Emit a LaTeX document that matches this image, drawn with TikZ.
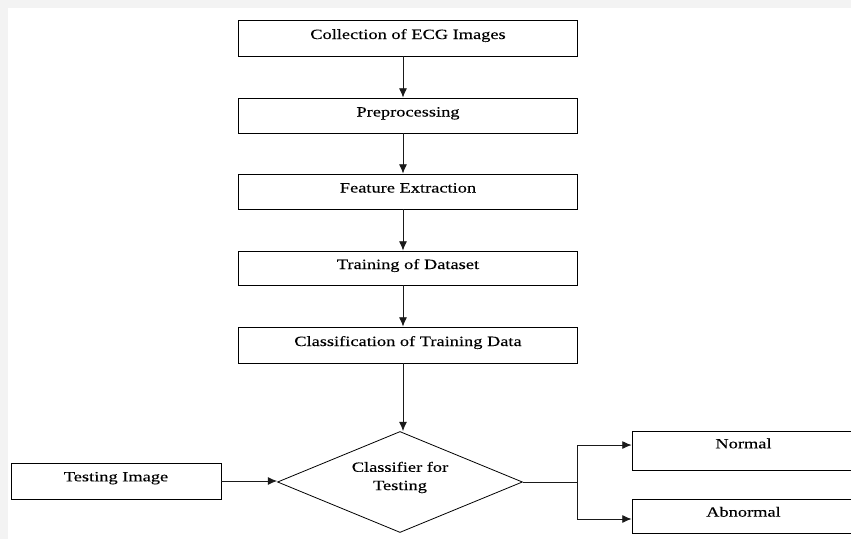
\documentclass[tikz,border=0pt]{standalone}
\usepackage{fontspec}
\setmainfont{Liberation Serif}[FakeStretch=1.3,FakeBold=0.2]
\usetikzlibrary{shapes.geometric,arrows.meta}
\definecolor{bggray}{HTML}{F3F3F3}
\definecolor{linegray}{HTML}{1A1A1A}
\tikzset{
  txt/.style={font=\fontsize{10.6}{13.7}\selectfont, text=black},
  stepbox/.style={txt, draw=black, line width=0.6pt, fill=white, rectangle, inner sep=0pt,
    text height=7.5pt, text depth=6pt},
  decbox/.style={draw=black, line width=0.6pt, fill=white, diamond, inner sep=0pt, aspect=2.43,
    minimum width=183.75pt, minimum height=75.75pt},
  conn/.style={draw=linegray, line width=0.65pt},
  arr/.style={conn, -{Latex[length=7pt,width=6pt]}}
}
\begin{document}
\begin{tikzpicture}[x=0.75pt,y=-0.75pt]
\useasboundingbox (0,0) rectangle (851,539);
\clip (0,0) rectangle (851,539);
\fill[bggray] (0,0) rectangle (851,539);
\fill[white] (8,8) rectangle (851,539);

\node[stepbox, minimum width=254.25pt, minimum height=27pt] (b1) at (408,38) {Collection of ECG Images};
\node[stepbox, minimum width=254.25pt, minimum height=26.25pt] (b2) at (408,115.5) {Preprocessing};
\node[stepbox, minimum width=254.25pt, minimum height=26.25pt] (b3) at (408,191.5) {Feature Extraction};
\node[stepbox, minimum width=254.25pt, minimum height=25.5pt] (b4) at (408,268) {Training of Dataset};
\node[stepbox, minimum width=254.25pt, minimum height=27pt] (b5) at (408,345) {Classification of Training Data};

\node[decbox] (d) at (400,482) {};
\node[txt, align=center, inner sep=0pt] (dt) at (400,477.5) {Classifier for\\Testing};

\node[stepbox, minimum width=157.5pt, minimum height=27pt, text height=7pt, text depth=6.5pt] (t) at (116,481) {Testing Image};
\node[stepbox, minimum width=167.25pt, minimum height=29.25pt, text height=7pt, text depth=10.3pt] (n) at (743.5,450.5) {Normal};
\node[stepbox, minimum width=167.25pt, minimum height=25.5pt, text height=7pt, text depth=6pt] (a) at (743.5,516) {Abnormal};

\draw[arr] ([xshift=-3.75pt]b1.south) -- ([xshift=-3.75pt]b2.north);
\draw[arr] ([xshift=-3.75pt]b2.south) -- ([xshift=-3.75pt]b3.north);
\draw[arr] ([xshift=-3.75pt]b3.south) -- ([xshift=-3.75pt]b4.north);
\draw[arr] ([xshift=-3.75pt]b4.south) -- ([xshift=-3.75pt]b5.north);
\draw[arr] ([xshift=-3.75pt]b5.south) -- ([xshift=-3.75pt]b5.south |- d.north);

\draw[arr] (t.east) -- (t.east -| d.west);

\coordinate (br) at (577,482);
\draw[conn] (d.east) -- (br);
\draw[arr] (br) |- ([yshift=4.1pt]n.west);
\draw[arr] (br) |- ([yshift=-2.25pt]a.west);
\end{tikzpicture}
\end{document}
